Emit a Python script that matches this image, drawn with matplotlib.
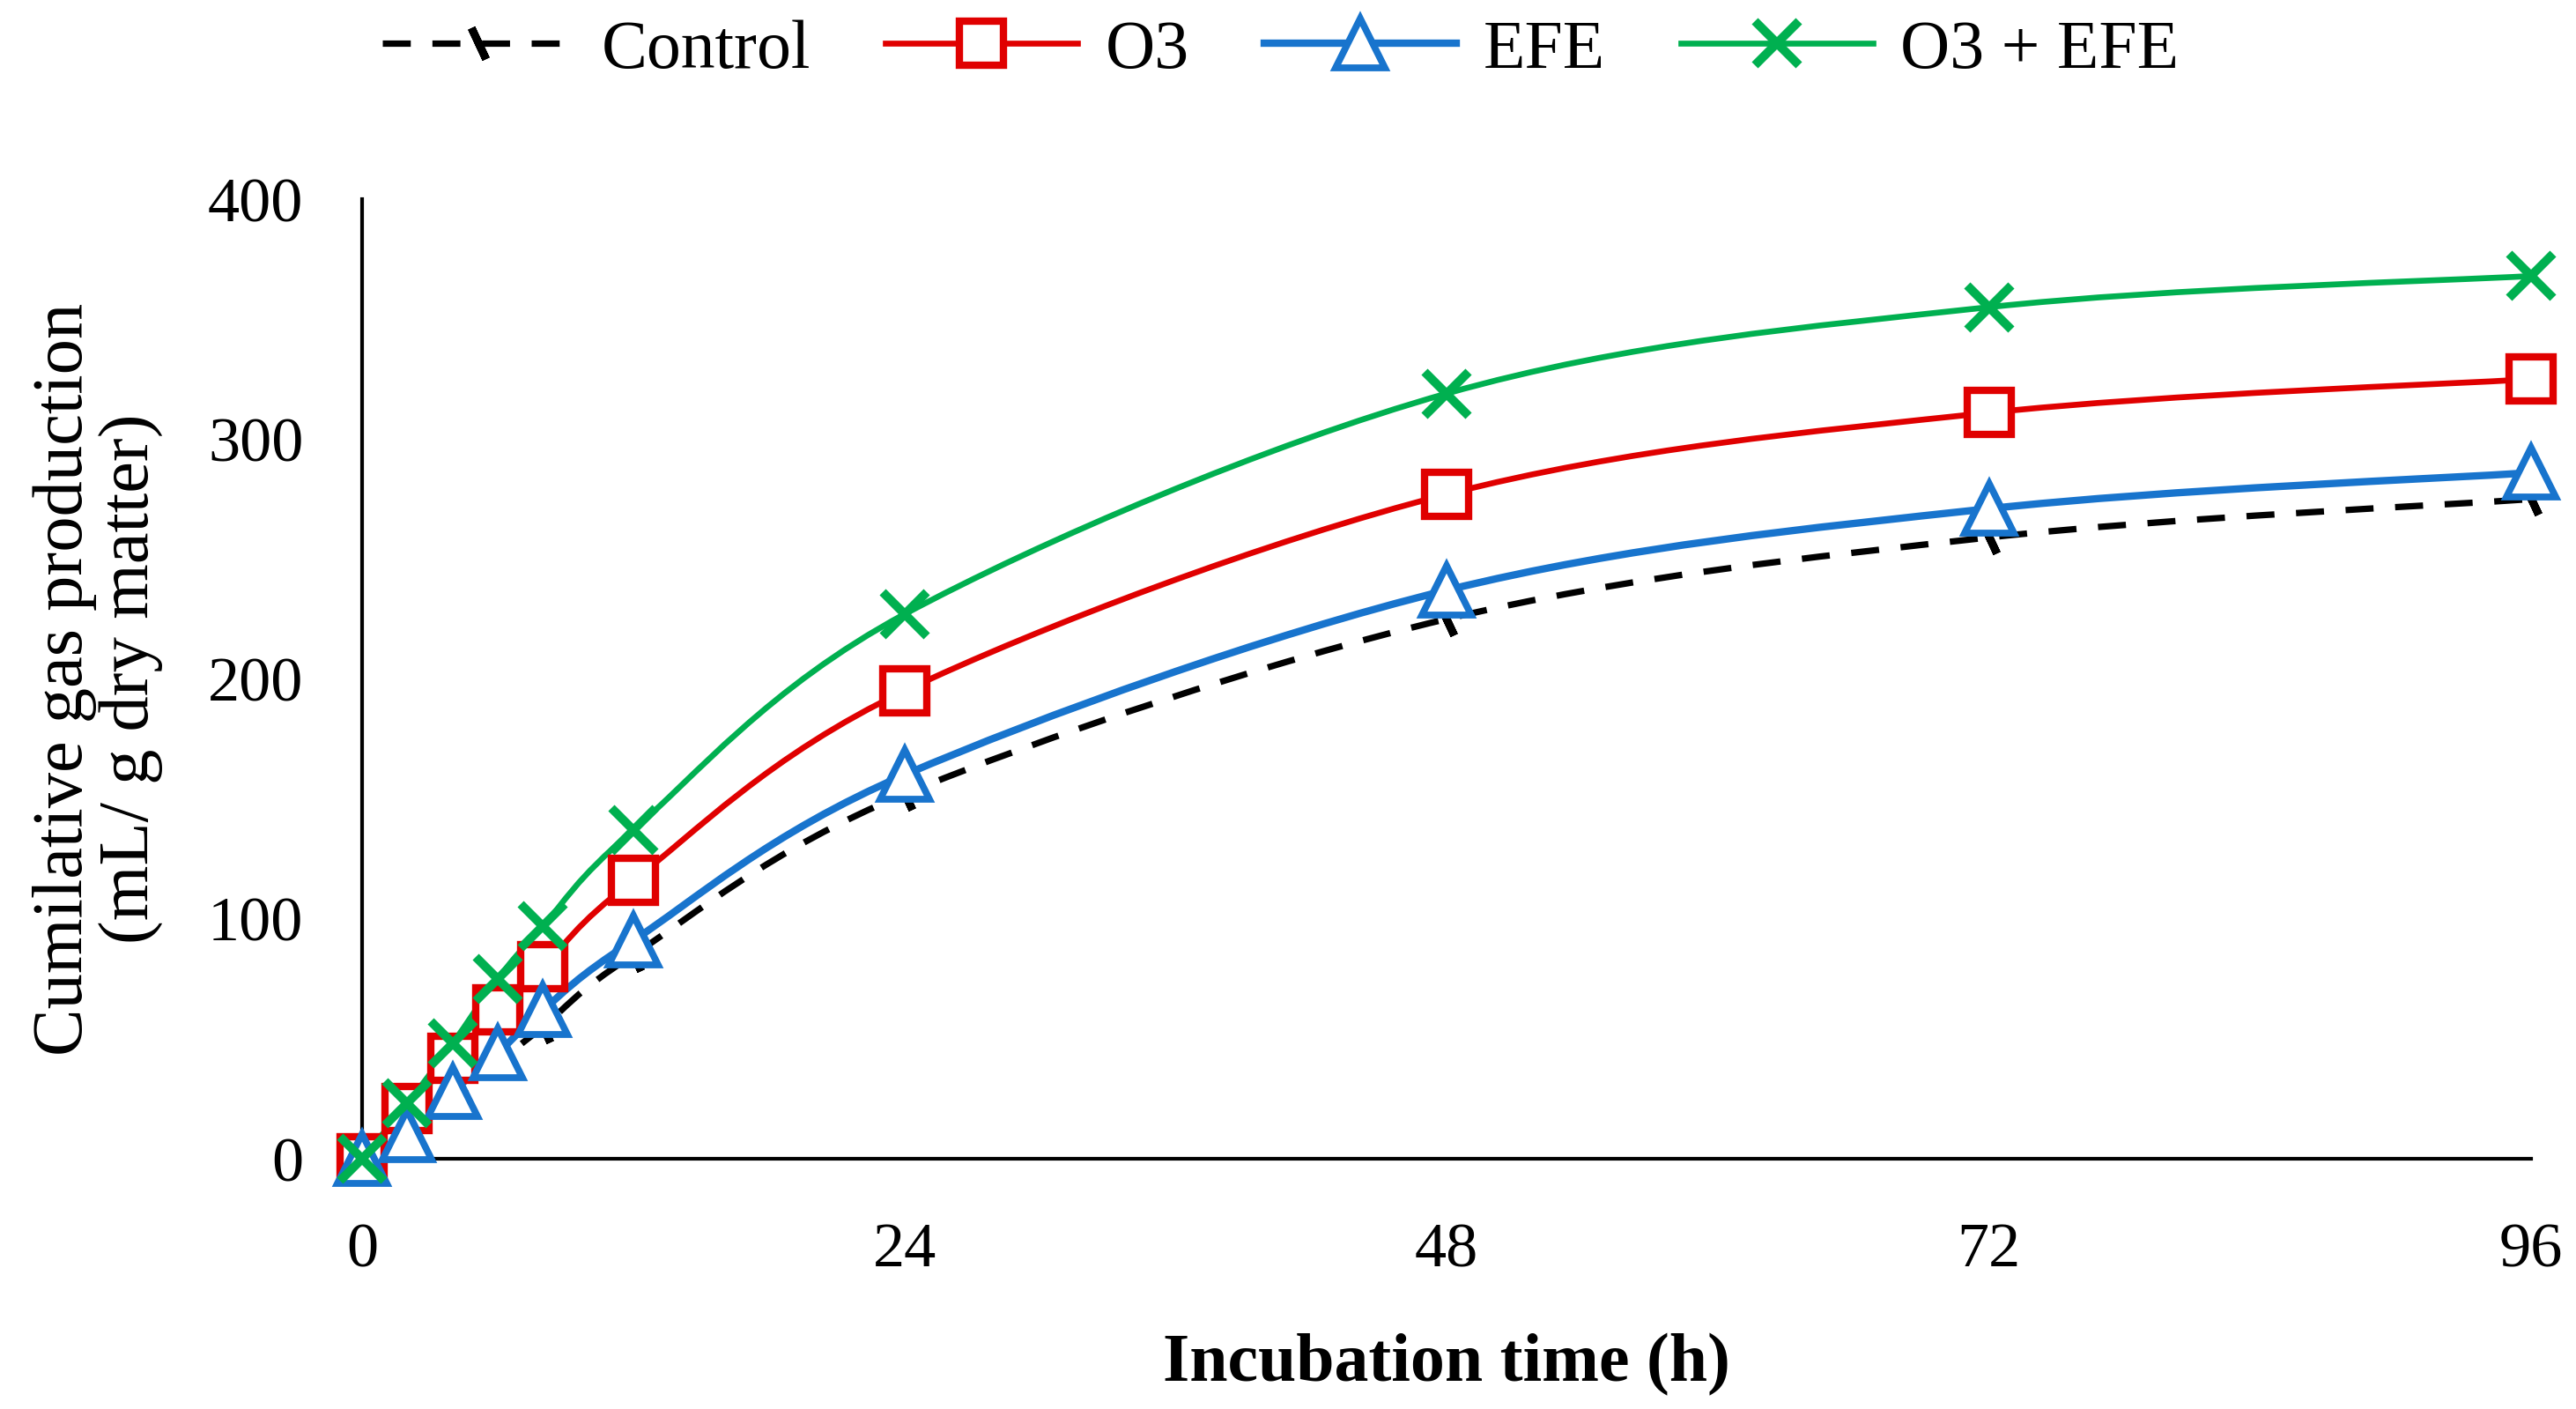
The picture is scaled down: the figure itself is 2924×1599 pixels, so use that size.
import numpy as np
import matplotlib
matplotlib.use("Agg")
import matplotlib.pyplot as plt
from matplotlib.path import Path
from matplotlib.patches import PathPatch
from matplotlib.lines import Line2D

plt.rcParams['font.family'] = ['Liberation Serif', 'DejaVu Serif']

hours = [0, 2, 4, 6, 8, 12, 24, 48, 72, 96]
control = [0, 8, 24, 40, 55, 85, 152, 225, 259, 275]
o3 = [0, 21, 42, 62, 80, 116, 195, 277, 311, 325]
efe = [0, 10, 28, 44, 62, 91, 160, 237, 271, 286]
o3_efe = [0, 23, 48, 75, 97, 137, 227, 319, 355, 368]
series_names = ["Control", "O3", "EFE", "O3 + EFE"]
x_ticks = [0, 24, 48, 72, 96]
y_ticks = [0, 100, 200, 300, 400]


def smooth_path(x, y, t=1/6):
    x = np.asarray(x, float); y = np.asarray(y, float)
    verts = [(x[0], y[0])]
    codes = [Path.MOVETO]
    n = len(x)
    for i in range(n - 1):
        p0 = np.array([x[max(i - 1, 0)], y[max(i - 1, 0)]])
        p1 = np.array([x[i], y[i]])
        p2 = np.array([x[i + 1], y[i + 1]])
        p3 = np.array([x[min(i + 2, n - 1)], y[min(i + 2, n - 1)]])
        c1 = p1 + (p2 - p0) * t
        c2 = p2 - (p3 - p1) * t
        verts += [tuple(c1), tuple(c2), tuple(p2)]
        codes += [Path.CURVE4] * 3
    return Path(verts, codes)


fig = plt.figure(figsize=(14.62, 7.995), dpi=200)
ax = fig.add_axes([0.1406, 0.1776, 0.842, 0.681])

dash_marker = (2, 2, 25)
styles = [
    dict(color='black', lw=2.6, ls=(0, (4.4, 3.4)), marker=dash_marker, ms=14, mfc='none', mew=3.2),
    dict(color='#E00000', lw=2.4, ls='-', marker='s', ms=18, mfc='white', mew=3.0),
    dict(color='#1874CD', lw=3.0, ls='-', marker='^', ms=20, mfc='white', mew=2.8),
    dict(color='#00B050', lw=2.4, ls='-', marker='x', ms=18, mfc='none', mew=3.6),
]
data = [control, o3, efe, o3_efe]

handles = []
for vals, st, name in zip(data, styles, series_names):
    patch = PathPatch(smooth_path(hours, vals), fill=False, edgecolor=st['color'],
                      lw=st['lw'], ls=st['ls'], capstyle='butt', zorder=2)
    ax.add_patch(patch)
    ax.plot(hours, vals, ls='none', marker=st['marker'], ms=st['ms'], mfc=st['mfc'],
            mec=st['color'], mew=st['mew'], clip_on=False, zorder=3)
    handles.append(Line2D([], [], color=st['color'], lw=st['lw'], ls=st['ls'],
                          marker=st['marker'], ms=st['ms'], mfc=st['mfc'],
                          mec=st['color'], mew=st['mew']))

ax.set_xlim(0, 96)
ax.set_ylim(0, 400)
ax.set_xticks(x_ticks)
ax.set_yticks(y_ticks)
for s in ['top', 'right']:
    ax.spines[s].set_visible(False)
for s in ['left', 'bottom']:
    ax.spines[s].set_linewidth(1.5)
    ax.spines[s].set_color('black')
ax.tick_params(axis='both', length=0, labelsize=26)
ax.tick_params(axis='x', pad=26)
ax.tick_params(axis='y', pad=24)

ax.set_xlabel("Incubation time (h)", fontsize=28, fontweight='bold', labelpad=22)
ax.set_ylabel("Cumilative gas production\n(mL/ g dry matter)", fontsize=29, labelpad=18,
              linespacing=1.05)

fig.legend(handles, series_names, loc='upper center', bbox_to_anchor=(0.497, 1.03),
           ncol=4, frameon=False, fontsize=28, handlelength=2.8, columnspacing=1.1,
           handletextpad=0.4)

fig.savefig("out.png", dpi=200)
